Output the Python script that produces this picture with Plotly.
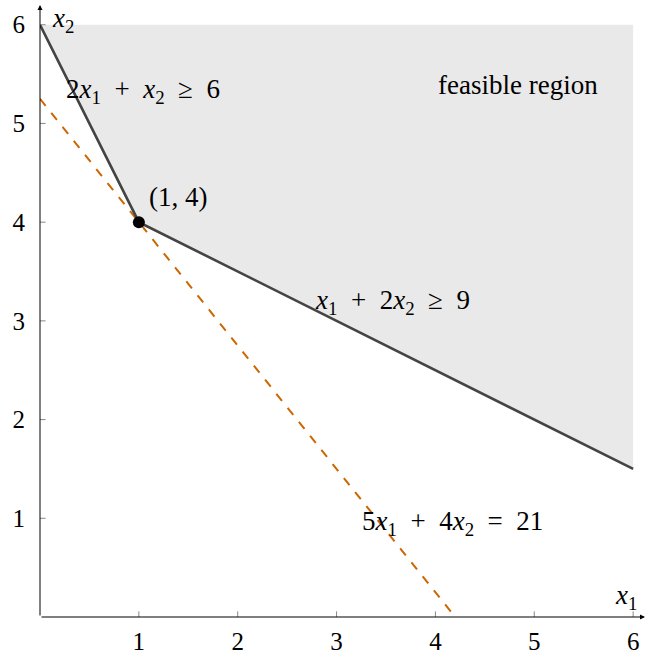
import plotly.graph_objects as go

# Data
boundary_x = [0, 1, 6]
boundary_y = [6, 4, 1.5]
region_x = [0, 1, 6, 6, 0]
region_y = [6, 4, 1.5, 6, 6]
iso_x = [0, 4.2]          # 5x1 + 4x2 = 21
iso_y = [5.25, 0]
opt_x = [1]
opt_y = [4]
tick_vals = [1, 2, 3, 4, 5, 6]
tick_text = ["1", "2", "3", "4", "5", "6"]

FONT = "Liberation Serif"
S = "\u2002"
fig = go.Figure()

fig.add_trace(go.Scatter(x=region_x, y=region_y, fill="toself", fillcolor="#e9e9e9",
                         line=dict(width=0), mode="lines", hoverinfo="skip", showlegend=False))
fig.add_trace(go.Scatter(x=iso_x, y=iso_y, mode="lines",
                         line=dict(color="#cc6600", width=2, dash="dash"), showlegend=False))
fig.add_trace(go.Scatter(x=boundary_x, y=boundary_y, mode="lines",
                         line=dict(color="#444444", width=2.6), showlegend=False))
fig.add_trace(go.Scatter(x=opt_x, y=opt_y, mode="markers",
                         marker=dict(color="black", size=12), showlegend=False))
# tick marks crossing the axes
fig.add_trace(go.Scatter(x=tick_vals, y=[0]*len(tick_vals), mode="markers",
                         marker=dict(symbol="line-ns-open", size=8, color="#888", line=dict(width=1, color="#888")),
                         showlegend=False, hoverinfo="skip"))
fig.add_trace(go.Scatter(x=[0]*len(tick_vals), y=tick_vals, mode="markers",
                         marker=dict(symbol="line-ew-open", size=8, color="#888", line=dict(width=1, color="#888")),
                         showlegend=False, hoverinfo="skip"))

# axes with arrows
fig.add_annotation(x=6.12, y=0, ax=0, ay=0, xref="x", yref="y", axref="x", ayref="y",
                   showarrow=True, arrowhead=2, arrowsize=1, arrowwidth=1, arrowcolor="black", text="")
fig.add_annotation(x=0, y=6.2, ax=0, ay=0, xref="x", yref="y", axref="x", ayref="y",
                   showarrow=True, arrowhead=2, arrowsize=1, arrowwidth=1, arrowcolor="black", text="")

labels = [
    (0.1, 6.05, "<i>x</i><sub>2</sub>", "left"),
    (1.04, 5.33, f"2<i>x</i><sub>1</sub>{S}+{S}<i>x</i><sub>2</sub>{S}≥{S}6", "center"),
    (1.40, 4.25, "(1, 4)", "center"),
    (3.57, 3.19, f"<i>x</i><sub>1</sub>{S}+{S}2<i>x</i><sub>2</sub>{S}≥{S}9", "center"),
    (4.17, 0.95, f"5<i>x</i><sub>1</sub>{S}+{S}4<i>x</i><sub>2</sub>{S}={S}21", "center"),
    (4.84, 5.39, "feasible region", "center"),
    (5.93, 0.2, "<i>x</i><sub>1</sub>", "center"),
]
for x, y, t, anc in labels:
    fig.add_annotation(x=x, y=y, text=t, showarrow=False, xanchor=anc, yanchor="middle",
                       font=dict(family=FONT, size=27, color="black"))

fig.update_xaxes(range=[0, 6.12], tickvals=tick_vals, ticktext=tick_text, showgrid=False,
                 zeroline=False, showline=False, ticks="", automargin=False, ticklabelstandoff=7,
                 tickfont=dict(family=FONT, size=25, color="black"))
fig.update_yaxes(range=[0, 6.2], tickvals=tick_vals, ticktext=tick_text, showgrid=False,
                 zeroline=False, showline=False, ticks="", automargin=False, ticklabelstandoff=14,
                 tickfont=dict(family=FONT, size=25, color="black"))

fig.update_layout(width=647, height=655, margin=dict(l=40, r=2, t=5, b=38),
                  plot_bgcolor="white", paper_bgcolor="white")
fig.write_html("out.html", post_script="document.body.style.margin='0';",
               config={"displayModeBar": False})
